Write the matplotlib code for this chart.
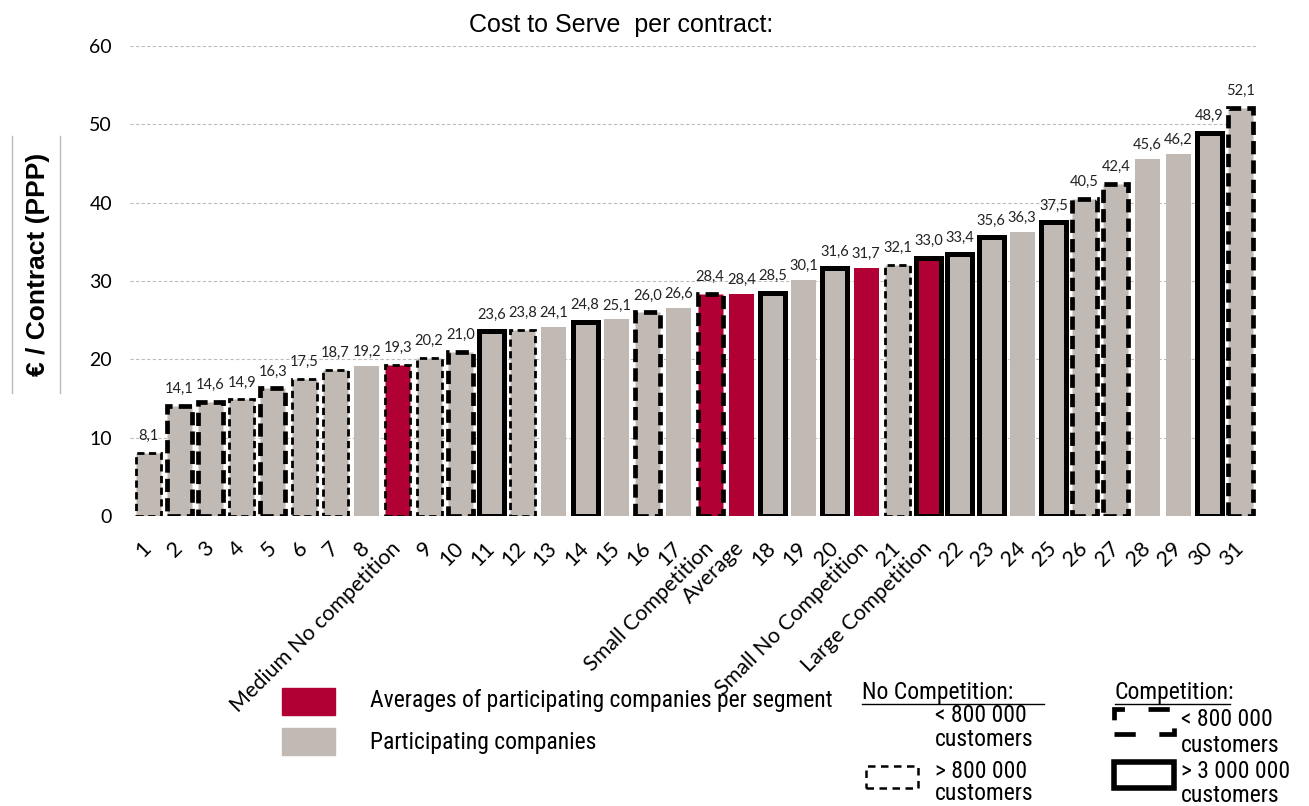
import matplotlib
matplotlib.use("Agg")
import matplotlib.pyplot as plt
from matplotlib import font_manager
from matplotlib.patches import Rectangle
from matplotlib.lines import Line2D

# ---------------- data ----------------
labels = ['1', '2', '3', '4', '5', '6', '7', '8', 'Medium No competition', '9', '10',
          '11', '12', '13', '14', '15', '16', '17', 'Small Competition', 'Average',
          '18', '19', '20', 'Small No Competition', '21', 'Large Competition',
          '22', '23', '24', '25', '26', '27', '28', '29', '30', '31']
values = [8.1, 14.1, 14.6, 14.9, 16.3, 17.5, 18.7, 19.2, 19.3, 20.2, 21.0,
          23.6, 23.8, 24.1, 24.8, 25.1, 26.0, 26.6, 28.4, 28.4,
          28.5, 30.1, 31.6, 31.7, 32.1, 33.0,
          33.4, 35.6, 36.3, 37.5, 40.5, 42.4, 45.6, 46.2, 48.9, 52.1]
# bar kind: 'avg' = segment average, 'co' = participating company
kinds = ['co'] * 8 + ['avg'] + ['co'] * 9 + ['avg', 'avg'] + ['co'] * 3 + ['avg', 'co', 'avg'] + ['co'] * 10
# segment: NC_S no competition <800k, NC_L no competition >800k,
#          C_S competition <800k, C_L competition >3M
segments = ['NC_L', 'C_S', 'C_S', 'NC_L', 'C_S', 'NC_L', 'NC_L', 'NC_S', 'NC_L', 'NC_L', 'C_S',
            'C_L', 'NC_L', 'NC_S', 'C_L', 'NC_S', 'C_S', 'NC_S', 'C_S', 'NC_S',
            'C_L', 'NC_S', 'C_L', 'NC_S', 'NC_L', 'C_L',
            'C_L', 'C_L', 'NC_S', 'C_L', 'C_S', 'C_S', 'NC_S', 'NC_S', 'C_L', 'C_S']
yticks = [0, 10, 20, 30, 40, 50, 60]


def pick(names):
    for n in names:
        try:
            font_manager.findfont(n, fallback_to_default=False)
            return n
        except Exception:
            continue
    return 'DejaVu Sans'


NARROW = pick(['Liberation Sans Narrow', 'Roboto Condensed', 'Liberation Sans'])
ARIAL = pick(['Liberation Sans', 'DejaVu Sans'])
CAL = pick(['Lato', 'Open Sans', 'DejaVu Sans'])

RED = '#B00034'
GREY = '#C0B9B4'
LEG_FS = 17

styles = {
    'NC_S': dict(lw=0, ls='-'),
    'NC_L': dict(lw=2.0, ls=(0, (2.6, 1.6))),
    'C_S': dict(lw=3.4, ls=(0, (2.8, 1.3))),
    'C_L': dict(lw=3.6, ls='-'),
}

fig = plt.figure(figsize=(13.09, 8.06), dpi=100)
ax = fig.add_axes([0.0993, 0.3598, 0.8617, 0.5831])

x = list(range(len(values)))
for i, (v, k, s) in enumerate(zip(values, kinds, segments)):
    st = styles[s]
    color = RED if k == 'avg' else GREY
    ax.bar(i, v, width=0.8, color=color,
           edgecolor='black' if st['lw'] > 0 else 'none',
           linewidth=st['lw'], linestyle=st['ls'], zorder=3)
    ax.annotate(f"{v:.1f}".replace('.', ','), (i, v), xytext=(0, 7 if st['lw'] > 0 else 5),
                textcoords='offset points', ha='center', va='bottom',
                fontsize=10.5, family=CAL, color='#222222')

ax.set_ylim(0, 60)
ax.set_xlim(-0.58, 35.55)
ax.set_yticks(yticks)
ax.set_yticklabels([str(t) for t in yticks], fontsize=14, family=CAL)
ax.yaxis.grid(True, linestyle=(0, (3, 2)), color='#BDBDBD', linewidth=0.8, zorder=0)
ax.set_axisbelow(True)
for sp in ax.spines.values():
    sp.set_visible(False)
ax.tick_params(axis='both', length=0)
ax.tick_params(axis='y', pad=13)
ax.set_xticks(x)
ax.set_xticklabels(labels, rotation=45, ha='right', va='center', rotation_mode='anchor',
                   fontsize=15.5, family=CAL)
ax.tick_params(axis='x', pad=21)

fig.text(0.4745, 0.969, 'Cost to Serve  per contract:', ha='center', va='center',
         fontsize=18, family=ARIAL)

# y label with side rules
fig.text(0.029, 0.672, '€ / Contract (PPP)', rotation=90, ha='center', va='center',
         fontsize=19, fontweight='bold', family=ARIAL)
for xl in (12 / 1309, 60 / 1309):
    fig.add_artist(Line2D([xl, xl], [1 - 393 / 806, 1 - 136 / 806], color='#BBBBBB',
                          lw=1.0, transform=fig.transFigure))


def fx(px):
    return px / 1309


def fy(py):
    return 1 - py / 806


# legend – colors
fig.add_artist(Rectangle((fx(282), fy(715)), fx(53), 27 / 806, color=RED, transform=fig.transFigure))
fig.add_artist(Rectangle((fx(282), fy(755)), fx(53), 27 / 806, color=GREY, transform=fig.transFigure))
fig.text(fx(370), fy(701), 'Averages of participating companies per segment', va='center',
         fontsize=LEG_FS, family=NARROW)
fig.text(fx(370), fy(743), 'Participating companies', va='center', fontsize=LEG_FS, family=NARROW)

# legend – borders
fig.text(fx(862), fy(692), 'No Competition:', va='center', fontsize=LEG_FS, family=NARROW)
fig.add_artist(Line2D([fx(862), fx(1044)], [fy(704), fy(704)], color='black', lw=1.0,
                      transform=fig.transFigure))
fig.text(fx(935), fy(716), '< 800 000', va='center', fontsize=LEG_FS, family=NARROW)
fig.text(fx(935), fy(739), 'customers', va='center', fontsize=LEG_FS, family=NARROW)
fig.add_artist(Rectangle((fx(866), fy(788)), fx(52), 22 / 806, facecolor='none', edgecolor='black',
                         lw=1.8, ls=(0, (3, 2.2)), transform=fig.transFigure))
fig.text(fx(935), fy(771), '> 800 000', va='center', fontsize=LEG_FS, family=NARROW)
fig.text(fx(935), fy(794), 'customers', va='center', fontsize=LEG_FS, family=NARROW)

fig.text(fx(1115), fy(692), 'Competition:', va='center', fontsize=LEG_FS, family=NARROW)
fig.add_artist(Line2D([fx(1115), fx(1230)], [fy(704), fy(704)], color='black', lw=1.0,
                      transform=fig.transFigure))
fig.add_artist(Rectangle((fx(1114), fy(734)), fx(60), 25 / 806, facecolor='none', edgecolor='black',
                         lw=3.4, ls=(0, (4.5, 5)), transform=fig.transFigure))
fig.text(fx(1181), fy(720), '< 800 000', va='center', fontsize=LEG_FS, family=NARROW)
fig.text(fx(1181), fy(745), 'customers', va='center', fontsize=LEG_FS, family=NARROW)
fig.add_artist(Rectangle((fx(1114), fy(788)), fx(60), 26 / 806, facecolor='none', edgecolor='black',
                         lw=4.0, transform=fig.transFigure))
fig.text(fx(1181), fy(771), '> 3 000 000', va='center', fontsize=LEG_FS, family=NARROW)
fig.text(fx(1181), fy(795), 'customers', va='center', fontsize=LEG_FS, family=NARROW)

fig.savefig('out.png', dpi=100)
